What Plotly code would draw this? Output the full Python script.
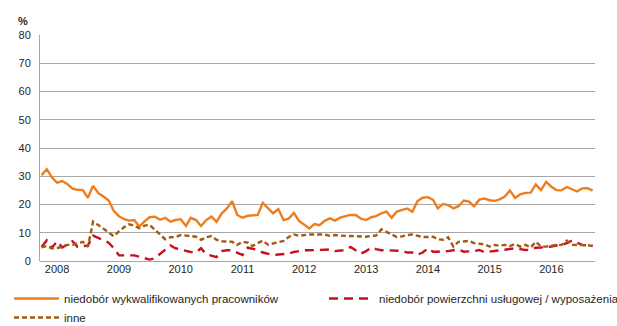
import pandas as pd
import plotly.graph_objects as go

# Monthly observations, October 2007 - September 2016
months = pd.date_range("2007-10-01", periods=108, freq="MS")

skilled_staff = [
    30.4, 32.5, 29.6, 27.7, 28.3, 27.3, 25.6, 25.2, 25.1, 22.4,
    26.6, 24.0, 22.8, 21.4, 17.8, 15.8, 14.8, 14.3, 14.5, 12.2,
    14.0, 15.5, 15.7, 14.6, 15.3, 13.9, 14.5, 14.8, 12.4, 15.3,
    14.5, 12.4, 14.5, 15.7, 13.9, 16.9, 18.6, 21.2, 16.3, 15.3,
    16.0, 16.2, 16.3, 20.6, 18.6, 16.9, 18.4, 14.5, 15.0, 17.0,
    14.2, 12.7, 11.5, 13.1, 12.7, 14.2, 15.1, 14.3, 15.4, 15.9,
    16.3, 16.3, 15.0, 14.5, 15.5, 15.9, 16.9, 17.5, 15.3, 17.5,
    18.0, 18.6, 17.4, 21.2, 22.4, 22.6, 21.6, 18.6, 20.2, 19.8,
    18.6, 19.4, 21.4, 21.0, 19.4, 21.7, 22.1, 21.5, 21.3, 21.8,
    22.8, 25.0, 22.3, 23.6, 24.1, 24.2, 27.1, 25.1, 28.0, 26.3,
    25.1, 25.0, 26.2, 25.4, 24.6, 25.7, 25.8, 24.9,
]

space_equipment = [
    5.0, 7.3, 4.6, 7.0, 4.8, 5.8, 7.0, 5.0, 5.2, 5.5,
    9.0, 8.2, 7.5, 6.5, 4.5, 2.0, 2.0, 2.0, 2.0, 1.5,
    1.0, 0.5, 1.0, 2.5, 4.0, 5.5, 4.5, 4.0, 3.5, 3.2,
    3.0, 4.5, 2.4, 1.8, 1.4, 3.5, 3.8, 3.8, 3.0, 2.1,
    4.7, 4.3, 3.9, 3.0, 2.5, 2.1, 2.3, 2.5, 2.6, 3.2,
    3.5, 3.8, 3.8, 3.8, 3.8, 4.0, 4.1, 3.5, 3.7, 3.8,
    5.0, 3.8, 2.6, 3.5, 4.7, 4.2, 3.8, 3.8, 3.8, 3.8,
    3.6, 3.0, 3.0, 2.2, 3.0, 4.5, 3.3, 3.3, 3.3, 3.5,
    3.8, 4.1, 3.3, 3.3, 3.5, 3.9, 3.1, 3.3, 3.5, 3.8,
    3.9, 4.2, 4.5, 4.2, 3.9, 4.0, 4.7, 4.8, 4.9, 5.1,
    5.5, 5.7, 6.3, 7.2, 6.5, 5.7, 5.5, 5.4,
]

other = [
    4.8, 5.3, 4.5, 4.6, 5.0, 5.7, 5.7, 6.2, 6.8, 5.0,
    14.0, 12.7, 11.5, 10.0, 8.8, 10.5, 12.0, 13.0, 12.5, 11.6,
    12.5, 12.8, 11.0, 9.5, 7.7, 8.4, 8.5, 9.2, 9.0, 9.0,
    8.6, 7.5, 8.4, 8.8, 7.5, 7.0, 6.8, 6.8, 5.7, 6.8,
    6.5, 5.3, 6.3, 7.2, 5.8, 6.2, 6.8, 7.1, 8.5, 9.4,
    8.9, 9.2, 9.4, 9.4, 9.4, 9.4, 8.9, 9.2, 9.0, 8.9,
    8.7, 8.6, 8.6, 8.6, 8.9, 9.0, 11.2, 10.4, 9.5, 8.5,
    8.7, 9.2, 9.4, 9.0, 8.5, 8.5, 8.6, 7.7, 7.5, 8.4,
    5.1, 6.8, 7.0, 7.1, 6.3, 6.0, 5.9, 5.1, 5.7, 5.4,
    5.7, 5.3, 6.0, 5.1, 5.7, 4.8, 6.8, 5.1, 5.1, 5.4,
    5.7, 5.7, 7.2, 5.7, 5.7, 5.7, 5.6, 5.3,
]

series_names = [
    "niedobór wykwalifikowanych pracowników",
    "niedobór powierzchni usługowej / wyposażenia",
    "inne",
]
year_ticks = [str(y) for y in range(2008, 2017)]

ORANGE = "#EE7D1E"
RED = "#C8101E"
BROWN = "#A35A14"
GRID = "#A6A6A6"
TEXT = "#262626"
FONT = "Liberation Sans, Arial, sans-serif"

fig = go.Figure()
fig.add_trace(go.Scatter(
    x=months, y=skilled_staff, name=series_names[0], mode="lines",
    line=dict(color=ORANGE, width=2.4), legend="legend",
))
fig.add_trace(go.Scatter(
    x=months, y=space_equipment, name=series_names[1], mode="lines",
    line=dict(color=RED, width=2.4, dash="9px,6px"), legend="legend2",
))
fig.add_trace(go.Scatter(
    x=months, y=other, name=series_names[2], mode="lines",
    line=dict(color=BROWN, width=2.4, dash="5px,3px"), legend="legend",
))

legend_common = dict(
    orientation="v", xref="container", yref="container",
    y=1 - 284 / 326, xanchor="left", yanchor="top",
    itemwidth=45, tracegroupgap=0, traceorder="normal",
    font=dict(family=FONT, size=11.5, color=TEXT),
)

fig.update_layout(
    width=617, height=326,
    margin=dict(l=40, r=22, t=35, b=65, autoexpand=False),
    paper_bgcolor="white", plot_bgcolor="white",
    font=dict(family=FONT, size=11, color=TEXT),
    showlegend=True,
    legend=dict(x=9 / 617, **legend_common),
    legend2=dict(x=324 / 617, **legend_common),
    annotations=[dict(
        text="<b>%</b>", xref="paper", yref="paper",
        x=(16 - 40) / 555, y=1 + (35 - 13) / 226,
        showarrow=False, font=dict(size=11, color=TEXT),
    )],
)

fig.update_xaxes(
    type="date",
    range=["2007-09-22", "2016-09-15"],
    tickvals=[pd.Timestamp(f"{y}-01-01") for y in year_ticks],
    ticktext=year_ticks,
    showgrid=False, zeroline=False,
    showline=False, ticks="",
    tickfont=dict(size=11),
)
fig.update_yaxes(
    range=[0, 80], dtick=10,
    showgrid=True, gridcolor=GRID, gridwidth=1,
    zeroline=True, zerolinecolor=GRID, zerolinewidth=1,
    showline=True, linecolor=GRID, linewidth=1,
    ticks="", ticklabelstandoff=6,
    tickfont=dict(size=11),
)

fig.write_html("out.html")
